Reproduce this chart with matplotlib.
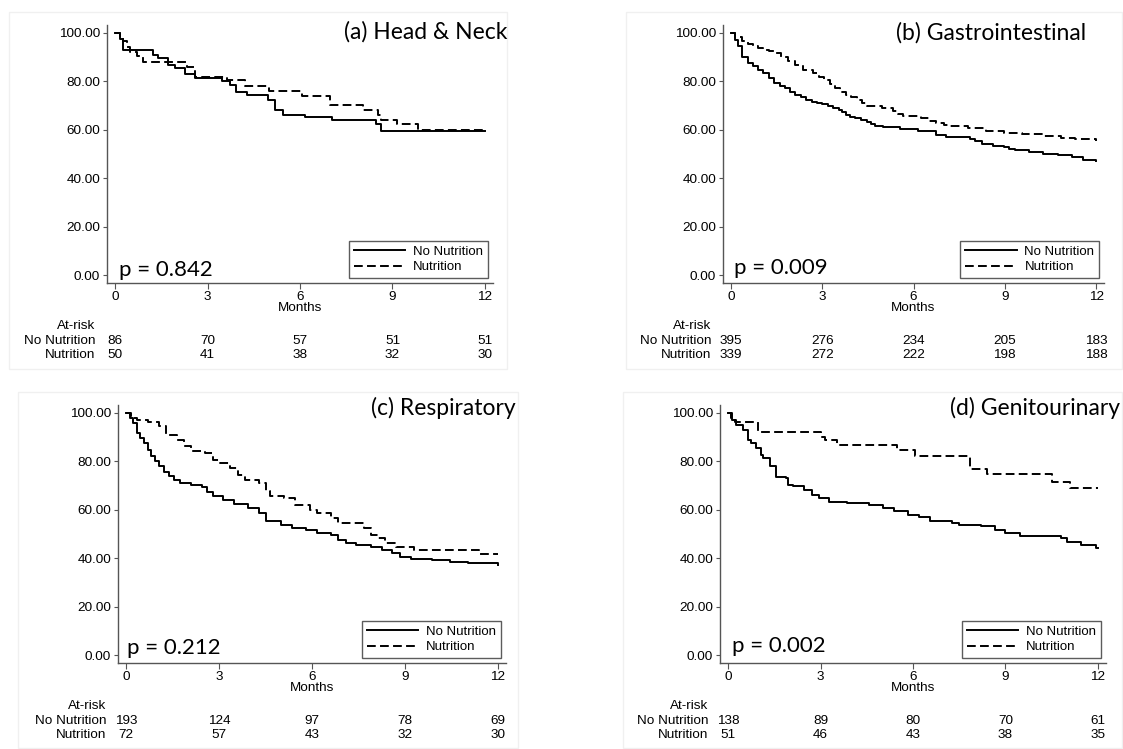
import matplotlib
matplotlib.use("Agg")
import matplotlib.pyplot as plt
from matplotlib.ticker import FormatStrFormatter
from matplotlib.patches import Rectangle

# ----------------------------
# Data
# ----------------------------
months = [0, 3, 6, 9, 12]

# (a) Head & Neck
a_no_t = [0, 0.16, 0.27, 1.24, 1.40, 1.73, 1.95, 2.27, 2.59, 3.46, 3.73, 3.94, 4.27,
          4.97, 5.19, 5.46, 6.16, 7.05, 8.45, 8.62, 12]
a_no_s = [100, 97.7, 93.0, 91.0, 89.5, 86.8, 85.4, 82.9, 81.4, 80.2, 78.5, 75.8, 74.4,
          72.3, 68.2, 66.3, 65.1, 64.0, 62.5, 59.3, 59.3]
a_nu_t = [0, 0.16, 0.27, 0.38, 0.49, 0.70, 0.92, 2.32, 2.59, 3.62, 4.23, 4.99, 6.05,
          6.97, 8.05, 8.54, 8.62, 9.14, 9.84, 12]
a_nu_s = [100, 98.5, 96.5, 94.3, 92.3, 90.5, 88.2, 86.0, 82.0, 80.4, 77.9, 76.2, 74.1,
          70.2, 68.2, 66.0, 64.2, 62.2, 60.1, 60.1]
a_risk_no = [86, 70, 57, 51, 51]
a_risk_nu = [50, 41, 38, 32, 30]

# (b) Gastrointestinal
b_no_t = [0, 0.12, 0.24, 0.38, 0.55, 0.71, 0.9, 1.06, 1.25, 1.42, 1.6, 1.77, 1.95, 2.12,
          2.3, 2.48, 2.65, 2.83, 3.0, 3.19, 3.36, 3.54, 3.66, 3.78, 3.92, 4.07, 4.27,
          4.48, 4.6, 4.72, 5.0, 5.19, 5.55, 6.14, 6.61, 6.73, 7.08, 7.67, 7.85, 8.02,
          8.26, 8.61, 8.97, 9.15, 9.32, 9.79, 10.27, 10.74, 11.21, 11.56, 12]
b_no_s = [100, 97.0, 94.5, 90.2, 87.5, 86.2, 84.8, 83.4, 81.4, 79.3, 78.2, 77.2, 75.8, 74.5,
          73.4, 72.4, 71.6, 71.0, 70.5, 69.9, 69.0, 68.3, 67.2, 66.2, 65.4, 64.8, 64.1,
          63.4, 62.4, 61.7, 61.3, 61.1, 60.3, 59.7, 59.3, 57.9, 57.2, 57.0, 56.0, 55.2,
          54.2, 53.5, 52.8, 52.2, 51.7, 51.0, 50.1, 49.4, 48.7, 47.6, 47.2]
b_nu_t = [0, 0.15, 0.35, 0.55, 0.71, 0.9, 1.06, 1.25, 1.42, 1.65, 1.89, 2.12, 2.36, 2.71,
          2.9, 3.07, 3.25, 3.42, 3.6, 3.78, 3.95, 4.13, 4.3, 4.48, 4.96, 5.31, 5.5, 5.67,
          6.26, 6.5, 6.73, 7.0, 7.2, 7.79, 8.38, 8.97, 9.56, 10.27, 10.85, 11.32, 12]
b_nu_s = [100, 98.3, 96.6, 95.5, 94.5, 93.8, 93.1, 92.4, 91.7, 90.0, 88.3, 86.9, 84.8, 83.4,
          82.0, 80.7, 79.0, 77.2, 75.8, 74.5, 73.4, 72.4, 71.0, 69.9, 69.0, 67.6, 66.7, 65.8,
          64.8, 63.8, 62.8, 62.0, 61.4, 60.7, 59.7, 58.6, 58.2, 57.5, 56.8, 56.1, 55.5]
b_risk_no = [395, 276, 234, 205, 183]
b_risk_nu = [339, 272, 222, 198, 188]

# (c) Respiratory
c_no_t = [0, 0.12, 0.23, 0.35, 0.46, 0.58, 0.7, 0.81, 0.93, 1.05, 1.22, 1.39, 1.56, 1.74,
          2.09, 2.44, 2.6, 2.79, 3.14, 3.48, 3.95, 4.3, 4.53, 5.0, 5.34, 5.81, 6.16, 6.62,
          6.85, 7.09, 7.43, 7.9, 8.25, 8.59, 8.83, 9.18, 9.87, 10.45, 11.03, 11.62, 12]
c_no_s = [100, 97.9, 95.9, 91.7, 89.5, 87.6, 84.8, 82.1, 80.0, 77.9, 75.8, 73.8, 72.4, 71.0,
          70.3, 69.4, 67.5, 65.5, 63.9, 62.5, 60.7, 58.6, 55.2, 53.8, 52.4, 51.7, 50.3, 49.7,
          47.6, 46.2, 45.5, 44.8, 43.2, 42.1, 40.7, 39.6, 39.3, 38.6, 38.2, 37.9, 37.2]
c_nu_t = [0, 0.17, 0.35, 0.70, 1.05, 1.28, 1.63, 1.86, 2.09, 2.56, 2.79, 3.02, 3.37, 3.6,
          3.83, 4.3, 4.53, 4.65, 5.11, 5.46, 5.92, 6.16, 6.62, 6.85, 7.32, 7.67, 7.9, 8.13,
          8.36, 8.71, 9.29, 11.38, 12]
c_nu_s = [100, 97.9, 97.2, 96.1, 94.5, 91.0, 89.0, 86.2, 84.1, 83.4, 80.7, 79.3, 77.2, 74.5,
          72.4, 71.0, 67.6, 65.5, 64.8, 62.1, 60.0, 58.6, 56.6, 54.5, 54.5, 52.4, 49.7, 48.3,
          46.2, 44.8, 43.2, 41.8, 41.8]
c_risk_no = [193, 124, 97, 78, 69]
c_risk_nu = [72, 57, 43, 32, 30]

# (d) Genitourinary
d_no_t = [0, 0.14, 0.26, 0.49, 0.66, 0.76, 0.9, 1.08, 1.13, 1.36, 1.57, 1.89, 1.95, 2.12,
          2.47, 2.71, 2.94, 3.29, 3.87, 4.57, 5.04, 5.39, 5.85, 6.2, 6.55, 7.25, 7.49,
          8.19, 8.65, 9.0, 9.47, 10.81, 10.98, 11.45, 11.92, 12]
d_no_s = [100, 97.2, 95.2, 93.1, 89.0, 87.5, 85.5, 82.5, 81.3, 77.9, 73.7, 73.1, 70.2, 69.7,
          68.3, 66.2, 64.8, 63.4, 62.8, 62.1, 60.7, 59.3, 57.9, 57.2, 55.2, 54.5, 53.8,
          53.1, 51.7, 50.3, 49.2, 48.3, 46.5, 45.5, 44.1, 44.1]
d_nu_t = [0, 0.11, 0.22, 0.96, 3.03, 3.14, 3.52, 5.48, 6.08, 7.84, 8.41, 10.52, 11.1, 12]
d_nu_s = [100, 98.0, 96.1, 92.3, 90.2, 88.8, 86.6, 84.6, 82.4, 77.0, 74.8, 71.6, 69.0, 69.0]
d_risk_no = [138, 89, 80, 70, 61]
d_risk_nu = [51, 46, 43, 38, 35]

titles = ["(a) Head & Neck", "(b) Gastrointestinal", "(c) Respiratory", "(d) Genitourinary"]
pvals = ["p = 0.842", "p = 0.009", "p = 0.212", "p = 0.002"]

# ----------------------------
# Layout (pixels of a 1123x749 canvas)
# ----------------------------
W, H = 1123, 749
fig = plt.figure(figsize=(W / 100, H / 100), dpi=100)
plt.rcParams["font.family"] = ["Liberation Sans", "DejaVu Sans"]
title_font = ["Lato", "DejaVu Sans"]

# axes box: left, right, top, bottom
boxes = [(107, 493, 25, 283), (723, 1104, 25, 283),
         (118, 506, 405, 663), (720, 1106, 405, 663)]
# faint panel frames
frames = [(9, 507, 12, 369), (626, 1122, 12, 369), (18, 518, 392, 748), (623, 1122, 392, 748)]
title_pos = [(507, 32), (1086, 33), (516, 408), (1120, 408)]
p_pos = [(119, 270), (734, 268), (127, 648), (732, 646)]

panels = [
    (a_no_t, a_no_s, a_nu_t, a_nu_s, a_risk_no, a_risk_nu),
    (b_no_t, b_no_s, b_nu_t, b_nu_s, b_risk_no, b_risk_nu),
    (c_no_t, c_no_s, c_nu_t, c_nu_s, c_risk_no, c_risk_nu),
    (d_no_t, d_no_s, d_nu_t, d_nu_s, d_risk_no, d_risk_nu),
]

for (fl, fr, ft, fb) in frames:
    fig.patches.append(Rectangle((fl / W, 1 - fb / H), (fr - fl) / W, (fb - ft) / H,
                                 transform=fig.transFigure, fill=False,
                                 edgecolor="#f0f0f0", lw=1.0, zorder=0))

for i, ((l, r, t, b), data) in enumerate(zip(boxes, panels)):
    no_t, no_s, nu_t, nu_s, risk_no, risk_nu = data
    ax = fig.add_axes([l / W, 1 - b / H, (r - l) / W, (b - t) / H])
    ax.patch.set_alpha(0)

    ax.step(no_t, no_s, where="post", color="black", lw=1.4, label="No Nutrition")
    ax.step(nu_t, nu_s, where="post", color="black", lw=1.4, dashes=(4.5, 2.2),
            label="Nutrition")

    ax.set_xlim(-0.26, 12.26)
    ax.set_ylim(-3.3, 103.3)
    ax.set_xticks(months)
    ax.set_yticks([0, 20, 40, 60, 80, 100])
    ax.yaxis.set_major_formatter(FormatStrFormatter("%.2f"))
    for s in ["top", "right"]:
        ax.spines[s].set_visible(False)
    for s in ["left", "bottom"]:
        ax.spines[s].set_color("#555555")
        ax.spines[s].set_linewidth(1.0)
    ax.tick_params(axis="y", length=3, pad=2, labelsize=9.7, color="#555555")
    ax.tick_params(axis="x", length=4, pad=1.5, labelsize=9.7, color="#555555")

    ax.text(0.5, -0.097, "Months", transform=ax.transAxes, ha="center", va="center",
            fontsize=9.7)

    leg = ax.legend(loc="lower right", bbox_to_anchor=(0.987, 0.019), borderaxespad=0,
                    fontsize=9.5, fancybox=False, handlelength=3.9, handletextpad=0.6,
                    labelspacing=0.25, borderpad=0.35)
    leg.get_frame().set_edgecolor("#333333")
    leg.get_frame().set_linewidth(1.0)

    # at-risk table
    ax.text(-0.03, -0.167, "At-risk", transform=ax.transAxes, ha="right", va="center",
            fontsize=9.7)
    ax.text(-0.03, -0.225, "No Nutrition", transform=ax.transAxes, ha="right",
            va="center", fontsize=9.7)
    ax.text(-0.03, -0.279, "Nutrition", transform=ax.transAxes, ha="right", va="center",
            fontsize=9.7)
    trans = ax.get_xaxis_transform()
    for m, n1, n2 in zip(months, risk_no, risk_nu):
        ax.text(m, -0.225, str(n1), transform=trans, ha="center", va="center", fontsize=9.7)
        ax.text(m, -0.279, str(n2), transform=trans, ha="center", va="center", fontsize=9.7)

    tx, ty = title_pos[i]
    fig.text(tx / W, 1 - ty / H, titles[i], ha="right", va="center", fontsize=16.5,
             family=title_font)
    px, py = p_pos[i]
    fig.text(px / W, 1 - py / H, pvals[i], ha="left", va="center", fontsize=16,
             family=title_font)

fig.savefig("out.png", dpi=100, facecolor="white")
